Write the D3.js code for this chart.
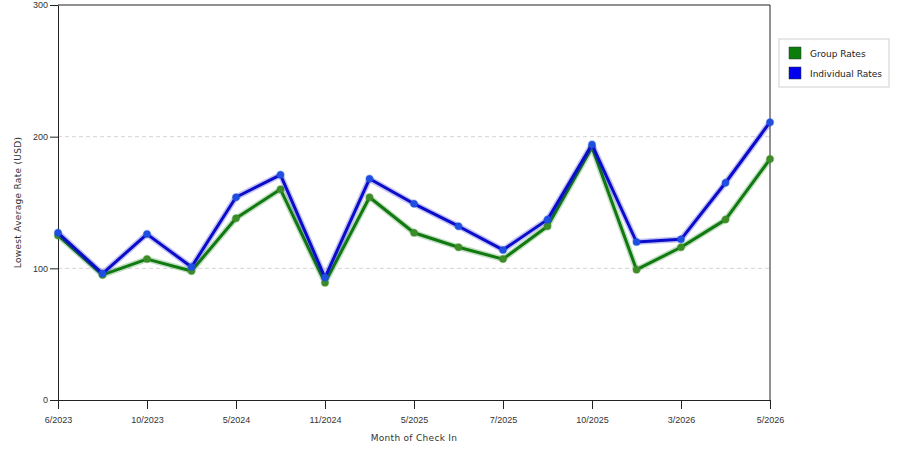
<!DOCTYPE html>
<html>
<head>
<meta charset="utf-8">
<script src="https://cdn.jsdelivr.net/npm/d3@7"></script>
<style>
  body { margin: 0; background: #fff; }
  svg { display: block; font-family: "DejaVu Sans", Verdana, sans-serif; }
</style>
</head>
<body>
<svg id="chart" width="900" height="450"></svg>
<script>
// months of check in (only every other one is labelled on the axis)
const months = ["6/2023", "8/2023", "10/2023", "2/2024", "5/2024", "8/2024", "11/2024", "2/2025",
  "5/2025", "6/2025", "7/2025", "9/2025", "10/2025", "12/2025", "3/2026", "4/2026", "5/2026"];
const groupRates = [125, 95, 107, 98, 138, 160, 89, 154, 127, 116, 107, 132, 192, 99, 116, 137, 183];
const individualRates = [127, 96, 126, 101, 154, 171, 93, 168, 149, 132, 114, 137, 194, 120, 122, 165, 211];
const yTicks = [0, 100, 200, 300];

const series = [
  { name: "Group Rates", values: groupRates, color: "#107a10", dot: "#3c8c28", swatch: "#0b7d0b" },
  { name: "Individual Rates", values: individualRates, color: "#0b0bcc", dot: "#1f4fe0", swatch: "#0000ee" }
];

const svg = d3.select("#chart");
const margin = { left: 58, top: 5, right: 130, bottom: 50 };
const plotW = 900 - margin.left - margin.right;
const plotH = 450 - margin.top - margin.bottom;

const x = d3.scalePoint().domain(months).range([0, plotW]);
const y = d3.scaleLinear().domain([0, 300]).range([plotH, 0]);

const g = svg.append("g").attr("transform", `translate(${margin.left},${margin.top})`);

// dashed grid lines
g.selectAll(".grid")
  .data(yTicks.filter(t => t > 0 && t < 300))
  .enter()
  .append("line")
  .attr("x1", 0).attr("x2", plotW)
  .attr("y1", d => y(d)).attr("y2", d => y(d))
  .attr("stroke", "#d4d4d4")
  .attr("stroke-dasharray", "4,3");

// frame top/right
g.append("path")
  .attr("d", `M0,0H${plotW}V${plotH}`)
  .attr("fill", "none")
  .attr("stroke", "#222");

const yAxis = g.append("g")
  .call(d3.axisLeft(y).tickValues(yTicks).tickSize(8).tickPadding(2).tickSizeOuter(0));
const xAxis = g.append("g")
  .attr("transform", `translate(0,${plotH})`)
  .call(d3.axisBottom(x)
    .tickValues(months.filter((m, i) => i % 2 === 0))
    .tickSize(9).tickPadding(8).tickSizeOuter(0));

[yAxis, xAxis].forEach(ax => {
  ax.selectAll("path, line").attr("stroke", "#222");
  ax.selectAll("text").attr("fill", "#333").style("font-size", "9px");
});

// axis titles
svg.append("text")
  .attr("transform", `translate(21,${margin.top + plotH / 2}) rotate(-90)`)
  .attr("text-anchor", "middle")
  .attr("fill", "#333")
  .style("font-size", "9px")
  .style("letter-spacing", "0.3px")
  .text("Lowest Average Rate (USD)");

svg.append("text")
  .attr("x", margin.left + plotW / 2)
  .attr("y", 441)
  .attr("text-anchor", "middle")
  .attr("fill", "#333")
  .style("font-size", "9px")
  .style("letter-spacing", "0.3px")
  .text("Month of Check In");

// lines and markers
const line = d3.line()
  .x((d, i) => x(months[i]))
  .y(d => y(d));

series.forEach(s => {
  g.append("path")
    .datum(s.values)
    .attr("fill", "none")
    .attr("stroke", s.color)
    .attr("stroke-opacity", 0.25)
    .attr("stroke-width", 6)
    .attr("stroke-linejoin", "round")
    .attr("d", line);
  g.append("path")
    .datum(s.values)
    .attr("fill", "none")
    .attr("stroke", s.color)
    .attr("stroke-width", 3)
    .attr("stroke-linejoin", "round")
    .attr("d", line);
  g.selectAll(null)
    .data(s.values)
    .enter()
    .append("circle")
    .attr("cx", (d, i) => x(months[i]))
    .attr("cy", d => y(d))
    .attr("r", 3.5)
    .attr("fill", s.dot)
    .attr("stroke", s.dot)
    .attr("stroke-opacity", 0.4)
    .attr("stroke-width", 1.5);
});

// legend
const legend = svg.append("g").attr("transform", "translate(779,39)");
legend.append("rect")
  .attr("width", 110).attr("height", 48)
  .attr("fill", "#fff")
  .attr("stroke", "#cfcfcf");
series.forEach((s, i) => {
  legend.append("rect")
    .attr("x", 10).attr("y", 8 + i * 20)
    .attr("width", 12).attr("height", 12)
    .attr("fill", s.swatch)
    .attr("stroke", "#333")
    .attr("stroke-width", 0.5);
  legend.append("text")
    .attr("x", 31).attr("y", 18 + i * 20)
    .attr("fill", "#222")
    .style("font-size", "9px")
    .text(s.name);
});
</script>
</body>
</html>
